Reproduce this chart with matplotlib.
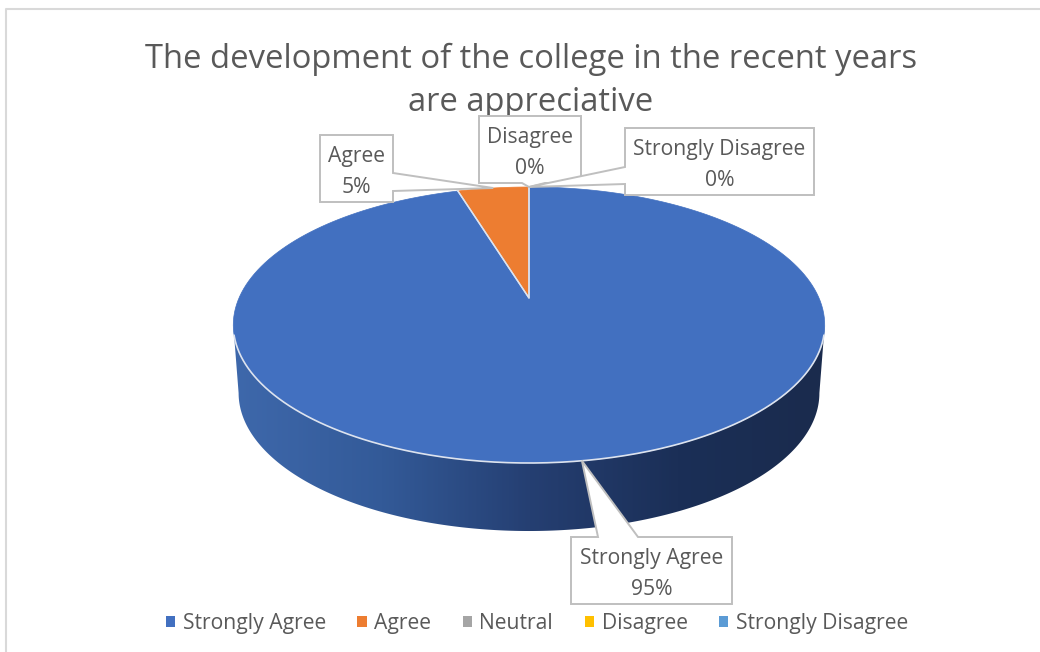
import numpy as np
from matplotlib import pyplot as plt
from matplotlib.patches import Patch, Polygon
from matplotlib.colors import LinearSegmentedColormap

title = 'The development of the college in the recent years\nare appreciative'
categories = ['Strongly Agree', 'Agree', 'Neutral', 'Disagree', 'Strongly Disagree']
# shares, the labels show them rounded
values = [95.3, 4.7, 0, 0, 0]
colors = ['#4270C0', '#ED7D31', '#A5A5A5', '#FFC000', '#5B9BD5']
side_colors = ['#3E68AB', '#335A98', '#253F72', '#1B2F57', '#1A2B4D']

TEXT = '#595959'
LINE = '#BFBFBF'
RIM = '#DDE3EE'
DATA_SIZE = 15.2
plt.rcParams.update({'font.family': ['Open Sans', 'DejaVu Sans']})


def project(theta, depth=0.0):
    # tilted disc: theta runs clockwise from the top, perspective moves the centre up
    u, v = np.sin(theta), np.cos(theta)
    c = 0.1957
    x = 529 + 290 * u / (1 + c * v) * (1 - 0.018 * depth)
    y = (298 - 74.4 * v) / (1 + c * v) + 68 * depth
    return x, y


def wedge_points(start, end):
    t = np.linspace(start, end, 200)
    x, y = project(t)
    return np.column_stack([np.r_[529, x], np.r_[298, y]])


def callout_box(ax, text, box, base, tip):
    # box outline with a pointer running out to the slice
    x0, x1, y0, y1 = box
    (ax_, ay_), (bx_, by_) = base
    if ax_ == x1:      # pointer leaves the right side
        pts = [(x0, y0), (x1, y0), base[0], tip, base[1], (x1, y1), (x0, y1)]
    elif ax_ == x0:    # left side
        pts = [(x0, y0), (x1, y0), (x1, y1), (x0, y1), base[1], tip, base[0]]
    elif ay_ == y0:    # top side
        pts = [(x0, y0), base[0], tip, base[1], (x1, y0), (x1, y1), (x0, y1)]
    else:              # bottom side
        pts = [(x0, y0), (x1, y0), (x1, y1), base[1], tip, base[0], (x0, y1)]
    ax.add_patch(Polygon(pts, closed=True, fc='white', ec=LINE, lw=1.4, zorder=6))
    ax.text((x0 + x1) / 2, (y0 + y1) / 2 + 3.5, text, ha='center', va='center', fontsize=DATA_SIZE,
            color=TEXT, linespacing=1.62, zorder=7)


fig = plt.figure(figsize=(10.4, 6.52), dpi=100)
ax = fig.add_axes([0, 0, 1, 1])
ax.set_xlim(0, 1040)
ax.set_ylim(652, 0)
ax.axis('off')

# chart frame, cut off by the screenshot on the right and at the bottom
ax.plot([6, 6, 1040], [652, 9, 9], color='#D9D9D9', lw=1.5, zorder=1)

ax.text(531, 81, title, ha='center', va='center', fontsize=23.6, color=TEXT, linespacing=1.39, zorder=2)

# side of the cylinder, between the widest points of the tilted disc
t_front = np.linspace(np.pi / 2 + 0.197, 3 * np.pi / 2 - 0.197, 300)
x_top, y_top = project(t_front)
x_bot, y_bot = project(t_front[::-1], depth=1.0)
side = Polygon(np.column_stack([np.r_[x_top, x_bot], np.r_[y_top, y_bot]]), closed=True, fc='none', ec='none')
ax.add_patch(side)
cmap = LinearSegmentedColormap.from_list('side', side_colors)
im = ax.imshow(np.linspace(0, 1, 400).reshape(1, -1), extent=[234, 826, 560, 300], cmap=cmap,
               aspect='auto', zorder=3)
im.set_clip_path(side)
ax.set_xlim(0, 1040)
ax.set_ylim(652, 0)

# top face, clockwise from twelve o'clock like the original
total = sum(values)
angle = -2 * np.pi * values[1] / total
mids = {}
for i in [1, 0]:
    sweep = 2 * np.pi * values[i] / total
    pts = wedge_points(angle, angle + sweep)
    ax.add_patch(Polygon(pts, closed=True, fc=colors[i], ec=colors[i], lw=0.5, zorder=4))
    # light edge only along the radial cuts
    ax.plot([pts[1, 0], 529, pts[-1, 0]], [pts[1, 1], 298, pts[-1, 1]], color=RIM, lw=1.0, zorder=5)
    mids[i] = angle + sweep / 2
    angle += sweep

# light rim along the front of the disc
ax.plot(x_top[8:-8], y_top[8:-8], color=RIM, lw=1.2, zorder=5)

# data labels
tip_big = project(mids[0])
tip_small = project(mids[1])
tip_top = project(0.0)
labels = [f'{c}\n{round(v / total * 100)}%' for c, v in zip(categories, values)]
callout_box(ax, labels[3], (479, 581, 116, 183), ((522, 183), (545, 183)), tip_top)
callout_box(ax, labels[4], (625, 814, 128, 195), ((625, 167), (625, 184)), tip_top)
callout_box(ax, labels[1], (320, 393, 135, 202), ((393, 173), (393, 191)), tip_small)
callout_box(ax, labels[0], (571, 732, 537, 604), ((598, 537), (638, 537)), tip_big)

handles = [Patch(fc=c, ec='none') for c in colors]
ax.legend(handles, categories, loc='center', bbox_to_anchor=(537 / 1040, 1 - 623.5 / 652), ncol=5, frameon=False,
          fontsize=DATA_SIZE, labelcolor=TEXT, handlelength=0.43, handleheight=0.43, handletextpad=0.36,
          columnspacing=1.5, borderpad=0)

plt.savefig('out.png', dpi=100)
